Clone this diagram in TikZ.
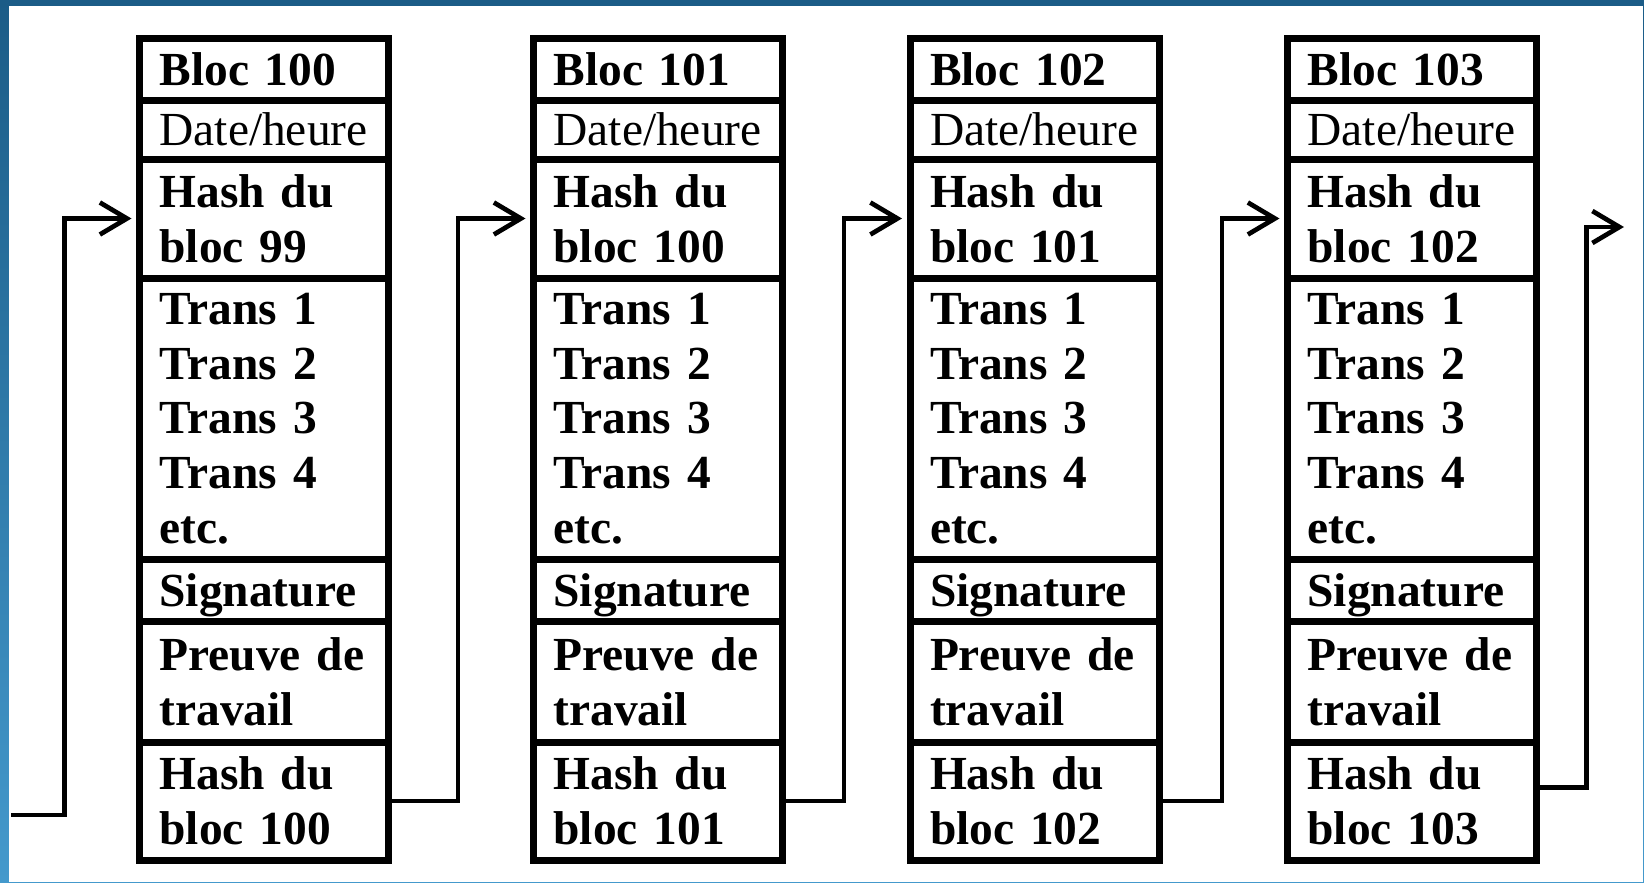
\documentclass[tikz,border=0pt]{standalone}
\usepackage{fontspec}
\setmainfont{Liberation Serif}
\usetikzlibrary{arrows.meta}
\definecolor{cadrehaut}{HTML}{1B5C87}
\definecolor{cadrebas}{HTML}{4499CC}

\begin{document}
\begin{tikzpicture}[
    cell/.style={draw, line width=0.07cm, outer sep=0pt, inner xsep=0.2cm, inner ysep=0pt,
        minimum width=2.49cm, text width=2.09cm, align=left, anchor=north west,
        font=\fontsize{13.5pt}{15.6pt}\selectfont\bfseries},
    one/.style={text depth=0pt},
    link/.style={line width=0.047cm, shorten >=0.08cm,
        -{Straight Barb[length=0.27cm, width=0.32cm, line width=0.047cm]}}
]
    % 1. Cadre bleu
    \shade[top color=cadrehaut, bottom color=cadrebas] (0,0) rectangle (16.44,8.82);
    \fill[white] (0.09,0) rectangle (16.43,8.76);

    % 2. Les blocs
    \foreach \n/\x/\p in {100/1.395/99, 101/5.335/100, 102/9.10/101, 103/12.875/102} {
        \node[cell, one, minimum height=0.62cm] (t\n) at (\x,8.44) {Bloc \n};
        \node[cell, one, minimum height=0.59cm] (d\n) at (t\n.south west) {\mdseries Date/heure};
        \node[cell, minimum height=1.19cm] (p\n) at (d\n.south west) {Hash du\\bloc \p};
        \node[cell, minimum height=2.81cm] (tr\n) at (p\n.south west) {Trans 1\\Trans 2\\Trans 3\\Trans 4\\etc.};
        \node[cell, one, minimum height=0.62cm] (s\n) at (tr\n.south west) {Signature};
        \node[cell, minimum height=1.21cm] (w\n) at (s\n.south west) {Preuve de\\travail};
        \node[cell, minimum height=1.18cm] (h\n) at (w\n.south west) {Hash du\\bloc \n};
    }

    % 3. Liens entre les blocs
    \coordinate (in) at (0.11,0.67);
    \coordinate (out) at (16.32,6.55);
    \draw[link] (in) -| ([xshift=-0.75cm]p100.west) -- (p100.west);
    \draw[link] (h100.east) -- ++(0.695,0) |- (p101.west);
    \draw[link] (h101.east) -- ++(0.615,0) |- (p102.west);
    \draw[link] (h102.east) -- ++(0.63,0) |- (p103.west);
    \draw[link] ([yshift=0.135cm]h103.east) -- ++(0.5,0) |- (out);
\end{tikzpicture}
\end{document}
